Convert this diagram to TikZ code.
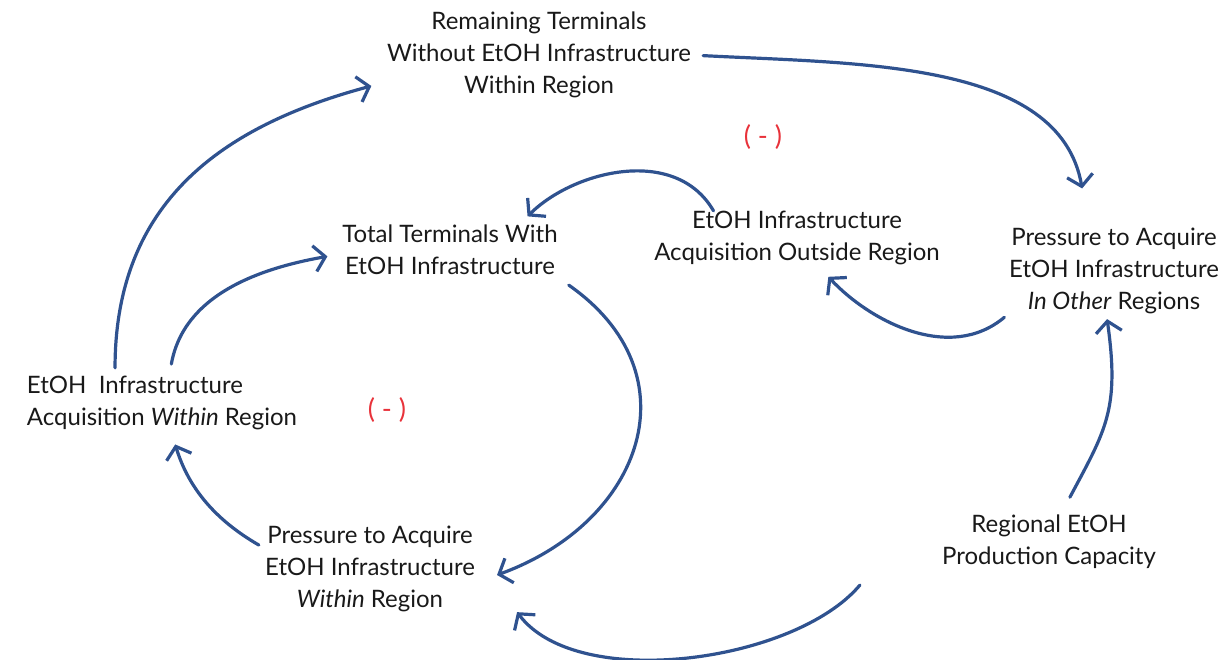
\documentclass[tikz,border=0pt]{standalone}
\usepackage{fontspec}
\setmainfont{Lato}
\usetikzlibrary{arrows.meta}
\definecolor{loopblue}{RGB}{47,82,143}
\definecolor{loopred}{RGB}{232,50,58}

\begin{document}
\begin{tikzpicture}
    [x=1pt, y=-1pt,
    link/.style={loopblue, line width=3.2pt, line cap=round,
        -{Straight Barb[length=11pt, width=26pt, line width=3.2pt]}},
    var/.style={align=center, inner sep=0pt, text=black!90,
        font=\fontsize{24}{32}\selectfont},
    sign/.style={loopred, font=\fontsize{27}{32}\selectfont}]
        \useasboundingbox (0,0) rectangle (1229,660);

        %% Variables
        \node[var] (rem) at (539,55) {Remaining Terminals\\Without EtOH Infrastructure\\Within Region};
        \node[var] (tot) at (450,250) {Total Terminals With\\EtOH Infrastructure};
        \node[var] (out) at (797,238) {EtOH Infrastructure\\Acquisition Outside Region};
        \node[var] (poth) at (1114,271) {Pressure to Acquire\\EtOH Infrastructure\\\textit{In Other} Regions};
        \node[var, align=left] (win) at (162,403) {EtOH~ Infrastructure\\Acquisition \textit{Within} Region};
        \node[var] (pwin) at (370,569) {Pressure to Acquire\\EtOH Infrastructure\\\textit{Within} Region};
        \node[var] (cap) at (1049,542) {Regional EtOH\\Production Capacity};

        %% Loop signs
        \node[sign] (s1) at (763,137) {( - )};
        \node[sign] (s2) at (387,410) {( - )};

        %% Within region loop
        \draw[link, shorten <=8pt, shorten >=16pt, looseness=1.1] (win.150) to[out=90, in=195] (rem.190);
        \draw[link, shorten <=12pt, shorten >=15pt] (win.75) to[out=80, in=190] (tot.182);
        \draw[link, looseness=1.33] ([xshift=11pt, yshift=-10pt]tot.south east) to[out=-35, in=20] ([xshift=22pt, yshift=-6pt]pwin.east);
        \draw[link, shorten <=7pt, shorten >=15pt] (pwin.169) to[out=150, in=-73] (win.-72);

        %% Other regions loop
        \draw[link, shorten <=12pt, shorten >=40pt] (rem.0) to[out=-3, in=100] (poth.120);
        \draw[link, shorten >=12pt] (out.162) to[out=120, in=45] (tot.20);
        \draw[link, shorten <=6pt, shorten >=16pt] (poth.202) to[out=-140, in=-47] (out.-53);

        %% Production capacity
        \draw[link, shorten <=20pt, shorten >=5pt, looseness=1.2] (cap.67) to[out=62, in=-82] (poth.-100);
        \draw[link, looseness=0.75] ([xshift=-82pt, yshift=-16pt]cap.south west) to[out=-130, in=-53] ([xshift=42pt]pwin.south east);
    \end{tikzpicture}
\end{document}
